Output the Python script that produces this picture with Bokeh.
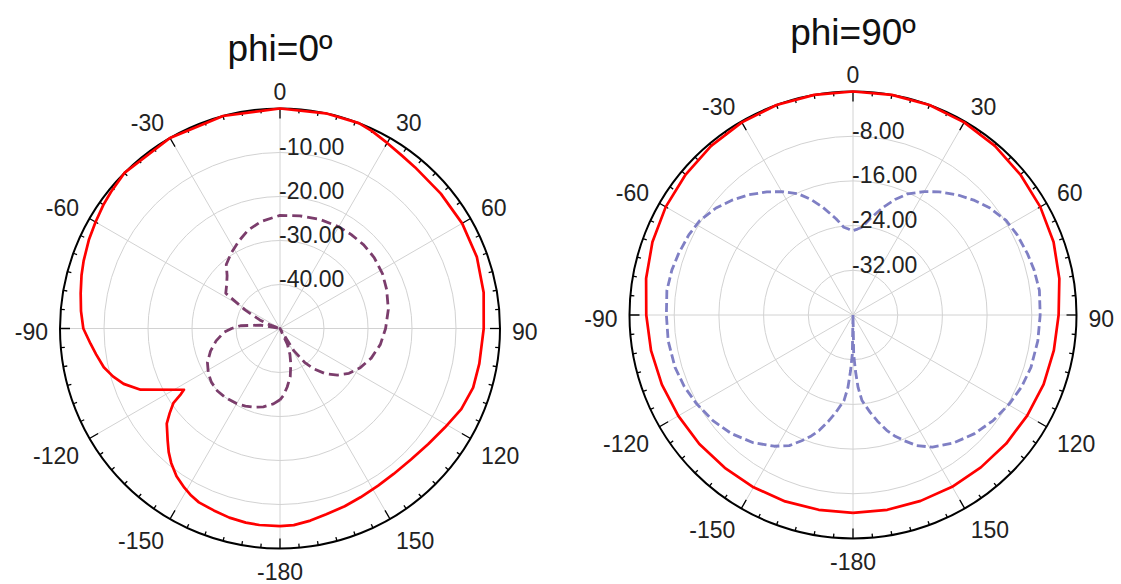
import numpy as np
from bokeh.plotting import figure
from bokeh.layouts import row
from bokeh.models import Range1d
from bokeh.embed import file_html
from bokeh.resources import INLINE
from bokeh.core.properties import value

FONT = "Liberation Sans"

# ---------------- data ----------------
titles = ["phi=0º", "phi=90º"]
angle_ticks = [0, 30, 60, 90, 120, 150, 180, -150, -120, -90, -60, -30]
angle_labels = ["0", "30", "60", "90", "120", "150", "-180", "-150", "-120", "-90", "-60", "-30"]

# panel 1 (phi = 0)
p1_rmin = -50
p1_rings = [-40, -30, -20, -10]
p1_ring_labels = ["-40.00", "-30.00", "-20.00", "-10.00"]
p1_co_theta = [-180, -174, -170, -165, -160, -155, -152, -149, -145, -141, -138, -135, -130,
               -127.5, -125, -123.5, -122.5, -113.7, -109.5, -106, -102.4, -98, -94.6, -90,
               -85, -80, -75, -71, -65, -60, -55, -51, -45, -30, -15, 0, 12, 21, 25, 30, 35,
               40, 50, 60, 70, 80, 90, 100, 107, 114, 121, 128, 135, 142, 148, 154.5, 160,
               166, 171, 176, 180]
p1_co_db = [-5.1, -5.1, -5.2, -5.5, -6.0, -6.4, -7.0, -7.8, -9.0, -10.7, -12.2, -13.9, -16.4,
            -18.4, -20.4, -23.0, -24.1, -15.4, -12.3, -10.5, -9.0, -7.8, -6.8, -5.3,
            -4.6, -4.0, -3.3, -2.8, -2.1, -1.6, -1.0, -0.6, 0, 0, 0, 0, 0, 0, -0.5, -1.3, -1.9,
            -2.2, -2.3, -2.2, -2.4, -3.0, -3.7, -4.0, -4.1, -4.9, -6.3, -7.3, -7.9, -8.05,
            -7.9, -7.5, -7.0, -6.5, -5.8, -5.2, -5.1]
p1_x_theta = [-180, -175, -168, -162, -156, -150, -142, -135, -128, -122, -115, -108, -101,
              -94, -90, -86, -80, -75, -70, -67, -62, -57, -50, -45, -40, -33, -25, -18, -10,
              0, 10, 20, 30, 37, 45, 53, 62, 70, 80, 90, 99, 108, 116, 123, 129, 135, 140,
              144, 148, 151, 155, 159, 163, 168, 173, 177, 180]
p1_x_db = [-33.8, -32.8, -31.8, -31.2, -30.7, -30.3, -30.0, -29.9, -30.2, -30.8, -31.8,
           -33.4, -35.2, -37.2, -39.0, -41.0, -45.5, -50, -47, -45, -41, -35.3, -34.2, -33,
           -31, -29.6, -28, -26.5, -25.3, -24.3, -24.0, -23.6, -23.3, -23.2, -23.1, -23.2,
           -23.6, -24.2, -25.0, -26.0, -26.9, -28.2, -29.7, -31.3, -33.2, -35.5, -38,
           -40.5, -44, -50, -46, -43.7, -41.6, -38.8, -36.6, -34.8, -33.8]

# panel 2 (phi = 90)
p2_rmin = -40
p2_rings = [-32, -24, -16, -8]
p2_ring_labels = ["-32.00", "-24.00", "-16.00", "-8.00"]
p2_co_theta = [-180, -170, -160, -150, -140, -130, -120, -110, -100, -90, -80, -70, -60, -50,
               -40, -30, -20, -10, 0, 10, 20, 30, 40, 50, 60, 70, 80, 90, 100, 110, 120,
               130, 140, 150, 160, 170, 180]
p2_co_db = [-4.6, -4.6, -4.5, -4.4, -4.3, -4.1, -3.9, -3.6, -3.3, -3.0, -2.4, -1.8, -1.3,
            -0.9, -0.5, -0.2, 0, 0, 0, 0, 0, -0.2, -0.5, -0.9, -1.3, -1.8, -2.5, -3.2,
            -3.5, -3.7, -4.0, -4.2, -4.4, -4.5, -4.6, -4.6, -4.6]
p2_x_theta = [-180, -179, -177.5, -176, -174, -170, -167, -163.7, -161, -157.8, -154, -149,
              -142, -134.3, -127, -119.5, -113, -106.4, -98, -90, -82.5, -76, -70.7, -64,
              -58.3, -52, -46.7, -41, -35, -30, -24.3, -20, -15.6, -10, -6, -3, 0,
              3, 6, 10, 15.6, 20, 24.3, 30, 35, 41, 46.7, 52, 58.3, 64, 70.7, 76, 82.5, 90,
              98, 106.4, 113, 119.5, 127, 134.3, 142, 149, 154, 157.8, 161, 163.7, 167, 170,
              174, 176, 177.5, 179, 180]
p2_x_db = [-40, -33, -30, -27, -24.6, -22.3, -20.5, -18.5, -17.1, -15.7, -14.0, -12.6,
           -11.0, -9.6, -8.6, -7.8, -7.2, -6.8, -6.6, -6.6, -6.4, -6.6, -6.9, -7.3,
           -7.8, -8.9, -10.1, -11.5, -13.1, -14.5, -16.2, -18, -20, -22.5, -24.2, -24.6, -24.9,
           -24.6, -24.2, -22.5, -20, -18, -16.2, -14.5, -13.1, -11.5, -10.1, -8.9, -7.8, -7.3,
           -6.9, -6.6, -6.35, -6.5, -6.6, -6.8, -7.2, -7.8, -8.6, -9.6, -10.9, -12.4, -14.0,
           -15.7, -17.1, -18.5, -20.5, -22.3, -24.6, -27, -30, -33, -40]

GRID = "#d2d2d2"
TXT = "#222222"
LBL_SIZE = "23px"


def pol(theta, r):
    t = np.radians(np.asarray(theta, dtype=float))
    r = np.asarray(r, dtype=float)
    return r * np.sin(t), r * np.cos(t)


def make_panel(width, height, cx, cy, R, rmin, rings, ring_labels, curves, title, title_mid):
    span = -rmin
    s = R / span  # pixels per dB
    p = figure(width=width, height=height,
               x_range=Range1d(-cx / s, (width - cx) / s),
               y_range=Range1d(-(height - cy) / s, cy / s),
               x_axis_type=None, y_axis_type=None,
               output_backend="svg", toolbar_location=None, min_border=0)
    p.outline_line_color = None
    p.background_fill_color = "white"

    # rings
    rr = [r - rmin for r in rings]
    p.circle(x=[0] * len(rr), y=[0] * len(rr), radius=rr, fill_color=None,
             line_color=GRID, line_width=1)
    # spokes
    sp = np.arange(0, 360, 30)
    x1, y1 = pol(sp, np.full(len(sp), span))
    p.segment(x0=np.zeros(len(sp)), y0=np.zeros(len(sp)), x1=x1, y1=y1,
              line_color=GRID, line_width=1)
    # outer circle
    p.circle(x=[0], y=[0], radius=[span], fill_color=None, line_color="black", line_width=2)
    # ticks
    tk = np.arange(0, 360, 5)
    ln = np.where(tk % 30 == 0, 10.0, 4.0) / s
    tx0, ty0 = pol(tk, np.full(len(tk), span))
    tx1, ty1 = pol(tk, span - ln)
    p.segment(x0=tx0, y0=ty0, x1=tx1, y1=ty1, line_color="black", line_width=1.3)

    # curves
    for th, db, col, lw, dash in curves:
        r = np.clip(np.asarray(db, dtype=float) - rmin, 0, None)
        x, y = pol(th, r)
        p.line(x, y, line_color=col, line_width=lw, line_dash=dash, line_join="round")

    # radial labels
    p.text(x=[0] * len(rr), y=rr, text=ring_labels, x_offset=-1, y_offset=-6,
           text_align="left", text_baseline="middle",
           text_font=value(FONT), text_font_size=LBL_SIZE, text_color=TXT)

    # angular labels
    g = 12.0
    h2 = 8.0
    th = np.array(angle_ticks, dtype=float)
    sn = np.round(np.sin(np.radians(th)), 6)
    cs = np.round(np.cos(np.radians(th)), 6)
    lx, ly = pol(th, np.full(len(th), span))
    xo = g * sn
    yo = -g * cs - h2 * np.sign(cs) + 3
    for align, mask in (("left", sn > 0), ("right", sn < 0), ("center", sn == 0)):
        idx = np.where(mask)[0]
        p.text(x=lx[idx], y=ly[idx], text=[angle_labels[i] for i in idx],
               x_offset=xo[idx], y_offset=yo[idx], text_align=align,
               text_baseline="middle", text_font=value(FONT),
               text_font_size=LBL_SIZE, text_color=TXT)

    # title
    p.text(x=[0], y=[(cy - title_mid) / s], text=[title], text_align="center",
           text_baseline="middle", text_font=value(FONT),
           text_font_size="37px", text_color="#111111")
    return p


RED = "#ff0000"
PURPLE = "#7b3d6c"
BLUE = "#7f7fc4"

f1 = make_panel(568, 584, 279.5, 328.0, 220.0, p1_rmin, p1_rings, p1_ring_labels,
                [(p1_co_theta, p1_co_db, RED, 2.7, "solid"),
                 (p1_x_theta, p1_x_db, PURPLE, 2.8, "10 5")],
                titles[0], 47.5)
f2 = make_panel(553, 584, 284.5, 314.5, 223.5, p2_rmin, p2_rings, p2_ring_labels,
                [(p2_co_theta, p2_co_db, RED, 2.7, "solid"),
                 (p2_x_theta, p2_x_db, BLUE, 2.8, "9 4")],
                titles[1], 32.0)

layout = row(f1, f2)
open("out.html", "w").write(file_html(layout, INLINE))
